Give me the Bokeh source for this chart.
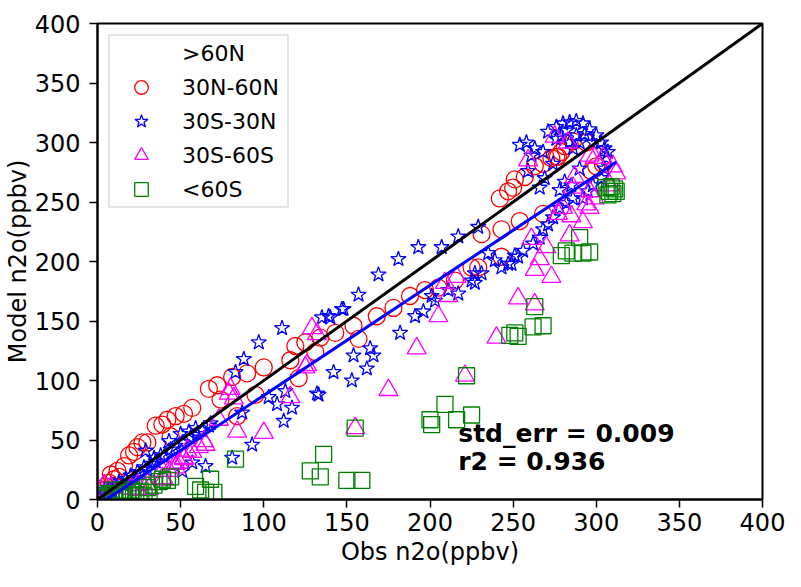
import math
from bokeh.plotting import figure
from bokeh.models import Range1d, FixedTicker, Label, Legend, LegendItem
from bokeh.embed import file_html
from bokeh.resources import INLINE

# ---------------- data ----------------
series_names = [">60N", "30N-60N", "30S-30N", "30S-60S", "<60S"]

# >60N : no points
n60_obs = []
n60_mod = []

# 30N-60N (red circles)
n30_obs = [2, 4, 5, 7, 8, 10, 12, 13, 16, 19, 22, 24, 27, 30, 35, 39, 42, 44, 47, 52,
           57, 67, 72, 74, 81, 84, 90, 95, 100, 116, 119, 121, 125, 131, 134, 143, 154, 157, 168, 178,
           188, 197, 205, 215, 225, 229, 231, 243, 243, 242, 247, 250, 251, 254, 257, 263, 268, 268, 273, 276,
           277, 279, 281, 286, 297, 300, 304, 294]
n30_mod = [5, 8, 11, 14, 21, 17, 24, 19, 28, 37, 40, 44, 48, 48, 62, 63, 67, 53, 70, 72,
           77, 93, 96, 84, 103, 70, 106, 88, 111, 117, 129, 102, 132, 124, 136, 140, 146, 135, 154, 161,
           171, 176, 178, 184, 195, 195, 223, 204, 227, 253, 259, 262, 269, 234, 271, 280, 240, 282, 287, 288,
           288, 292, 297, 301, 276, 280, 282, 300]

# 30S-30N (blue stars)
eq_obs = [1, 3, 4, 6, 7, 9, 10, 12, 13, 15, 17, 18, 20, 22, 24, 26, 28, 30, 29, 32,
          34, 35, 38, 40, 43, 44, 47, 50, 51, 55, 56, 59, 60, 63, 65, 67, 68, 51, 57, 81,
          93, 87, 83, 88, 97, 111, 103, 108, 112, 113, 117, 132, 133, 142, 153, 162, 166, 154, 164, 135,
          140, 147, 148, 139, 157, 169, 181, 193, 182, 191, 196, 203, 201, 211, 217, 225, 227, 239, 247, 251,
          227, 231, 235, 243, 249, 253, 256, 262, 266, 268, 271, 274, 278, 282, 286, 292, 295, 298, 303, 305,
          306, 307, 305, 303, 300, 296, 292, 288, 284, 280, 276, 271, 254, 258, 263, 268, 274, 269, 266, 259,
          261, 278, 281, 285, 290, 286, 276, 290, 282, 288, 293, 298, 279, 284, 207, 217, 229]
eq_mod = [2, 5, 8, 4, 9, 7, 12, 10, 15, 13, 17, 14, 20, 18, 23, 22, 27, 25, 41, 30,
          35, 32, 37, 36, 49, 42, 45, 55, 48, 57, 52, 60, 55, 58, 28, 62, 64, 24, 31, 35,
          46, 73, 107, 118, 132, 144, 86, 80, 66, 91, 77, 89, 88, 107, 100, 110, 121, 121, 127, 153,
          153, 160, 160, 154, 172, 189, 202, 212, 140, 154, 158, 167, 171, 176, 173, 184, 190, 201, 198, 205,
          182, 190, 207, 195, 198, 204, 209, 215, 220, 227, 231, 237, 245, 249, 253, 253, 259, 264, 270, 278,
          287, 292, 295, 300, 306, 311, 316, 318, 317, 316, 313, 309, 298, 300, 295, 292, 282, 270, 262, 276,
          289, 260, 267, 264, 278, 295, 303, 300, 310, 306, 307, 300, 305, 300, 212, 221, 229]

# 30S-60S (magenta triangles)
s30_obs = [2, 4, 8, 20, 24, 24, 30, 31, 39, 40, 39, 43, 47, 47, 49, 52, 52, 54, 57, 61,
           64, 65, 73, 79, 80, 82, 84, 100, 116, 125, 126, 129, 132, 155, 175, 192, 205, 209, 211, 216,
           221, 240, 253, 263, 261, 263, 266, 270, 273, 275, 277, 280, 283, 284, 285, 286, 287, 292, 294, 296,
           296, 296, 299, 299, 304, 308, 310, 312, 259]
s30_mod = [8, 12, 10, 9, 8, 12, 13, 9, 18, 17, 24, 24, 27, 30, 31, 34, 35, 41, 40, 44,
           49, 46, 67, 89, 93, 85, 57, 56, 86, 111, 113, 144, 139, 60, 92, 127, 154, 182, 171, 187,
           104, 136, 169, 164, 219, 193, 202, 212, 187, 305, 240, 245, 300, 222, 238, 262, 271, 233, 248, 245,
           259, 289, 287, 253, 287, 264, 280, 274, 285]

# <60S (green squares)
s60_obs = [1, 3, 5, 8, 10, 12, 14, 16, 18, 20, 23, 26, 28, 31, 5, 10, 15, 20, 25, 30,
           34, 37, 42, 44, 39, 59, 62, 65, 68, 70, 83, 128, 134, 136, 150, 159, 155, 200, 201, 209,
           216, 225, 222, 248, 251, 253, 262, 268, 263, 279, 282, 286, 290, 292, 296, 306, 307, 308, 309, 310,
           311, 312]
s60_mod = [1, 3, 2, 4, 2, 5, 3, 2, 6, 3, 4, 7, 3, 6, 5, 8, 6, 8, 6, 10,
           12, 15, 16, 19, 17, 11, 8, 6, 17, 6, 34, 24, 19, 38, 16, 16, 60, 67, 63, 80,
           67, 71, 104, 138, 140, 137, 145, 146, 162, 205, 209, 207, 220, 207, 208, 262, 256, 259, 263, 257,
           261, 259]

one_to_one = [0, 400]
fit_slope = 0.925
fit_intercept = -5.0
stats_text = ["std_err = 0.009", "r2 = 0.936"]
axis_ticks = [0, 50, 100, 150, 200, 250, 300, 350, 400]
x_title = "Obs n2o(ppbv)"
y_title = "Model n2o(ppbv)"

FONT = "DejaVu Sans"

# ---------------- figure ----------------
p = figure(width=785, height=571, x_range=Range1d(0, 400), y_range=Range1d(0, 400),
           output_backend="svg", toolbar_location=None,
           min_border_left=96, min_border_right=23, min_border_top=23, min_border_bottom=72)

p.xgrid.grid_line_color = None
p.ygrid.grid_line_color = None
p.outline_line_color = "black"
p.outline_line_width = 2
p.background_fill_color = "white"

for ax in (p.xaxis[0], p.yaxis[0]):
    ax.ticker = FixedTicker(ticks=axis_ticks)
    ax.axis_line_width = 2
    ax.axis_line_color = "black"
    ax.major_tick_out = 8
    ax.major_tick_in = 0
    ax.major_tick_line_width = 1.5
    ax.minor_tick_out = 0
    ax.minor_tick_in = 0
    ax.major_label_text_font = FONT
    ax.major_label_text_font_size = "24px"
    ax.major_label_text_color = "black"
    ax.axis_label_text_font = FONT
    ax.axis_label_text_font_size = "24px"
    ax.axis_label_text_font_style = "normal"
    ax.axis_label_text_color = "black"

p.xaxis[0].major_label_standoff = 5
p.yaxis[0].major_label_standoff = 9
p.xaxis[0].axis_label = x_title
p.xaxis[0].axis_label_standoff = 4
p.yaxis[0].axis_label = y_title
p.yaxis[0].axis_label_standoff = 0

# ---------------- markers ----------------
r_empty = p.scatter(n60_obs, n60_mod, marker="circle", size=16, fill_alpha=0, line_alpha=0)
r_red = p.scatter(n30_obs, n30_mod, marker="circle", size=17, fill_color=None,
                  line_color="#ff0000", line_width=1.3)
r_blue = p.scatter(eq_obs, eq_mod, marker="star", size=16, fill_color=None,
                   line_color="#0000ff", line_width=1.3)
r_mag = p.scatter(s30_obs, s30_mod, marker="triangle", size=19, fill_color=None,
                  line_color="#ff00ff", line_width=1.3)
r_green = p.scatter(s60_obs, s60_mod, marker="square", size=16, fill_color=None,
                    line_color="#008000", line_width=1.3)

# ---------------- lines ----------------
p.line(one_to_one, one_to_one, line_color="black", line_width=3)
all_obs = n30_obs + eq_obs + s30_obs + s60_obs
fx = [min(all_obs), max(all_obs)]
fy = [fit_slope * v + fit_intercept for v in fx]
p.line(fx, fy, line_color="#0000ff", line_width=3)

# ---------------- legend ----------------
legend = Legend(items=[LegendItem(label=series_names[0], renderers=[r_empty]),
                       LegendItem(label=series_names[1], renderers=[r_red]),
                       LegendItem(label=series_names[2], renderers=[r_blue]),
                       LegendItem(label=series_names[3], renderers=[r_mag]),
                       LegendItem(label=series_names[4], renderers=[r_green])],
                location="top_left", margin=11, padding=0, spacing=0,
                glyph_width=62, glyph_height=34, label_height=34, label_width=105,
                label_standoff=10, label_text_font=FONT, label_text_font_size="22px",
                label_text_color="black",
                border_line_color="#cccccc", border_line_width=2,
                background_fill_color="white", background_fill_alpha=0.85)
p.add_layout(legend)

# ---------------- texts ----------------
p.add_layout(Label(x=217, y=55.2, text=stats_text[0], text_font=FONT, text_font_size="25px",
                   text_font_style="bold", text_color="black", text_baseline="middle"))
p.add_layout(Label(x=217, y=32.3, text=stats_text[1], text_font=FONT, text_font_size="25px",
                   text_font_style="bold", text_color="black", text_baseline="middle"))

open("out.html", "w").write(file_html(p, INLINE))
